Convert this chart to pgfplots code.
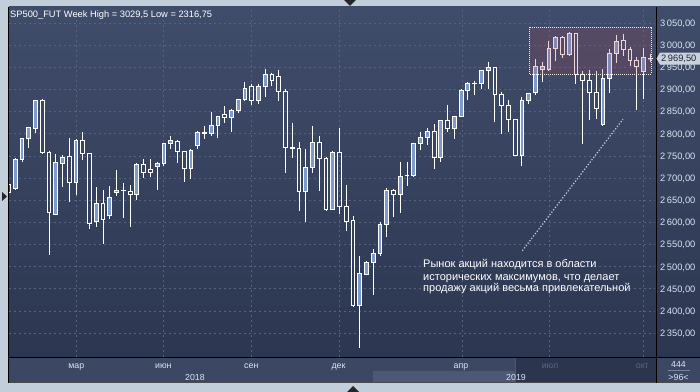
\documentclass[border=0pt]{standalone}
\usepackage{pgfplots}
\pgfplotsset{compat=1.18}
\usepackage{pgfplotstable}
\usepackage{fontspec}
\setmainfont{Liberation Sans}

\definecolor{framec}{HTML}{C3CEDB}
\definecolor{bgtop}{HTML}{404D6A}
\definecolor{bgbot}{HTML}{2C3651}
\definecolor{gridc}{HTML}{56637F}
\definecolor{bullc}{HTML}{7E9BCB}
\definecolor{labc}{HTML}{DCE5F4}
\definecolor{tbar}{HTML}{3B4763}
\definecolor{tbardark}{HTML}{2B354E}
\definecolor{tbarlight}{HTML}{4C5874}
\definecolor{dimlab}{HTML}{5C6682}
\definecolor{ovl}{HTML}{A94858}
\definecolor{dotc}{HTML}{C8D0DE}
\definecolor{pricebox}{HTML}{C9D1DC}
\definecolor{pricetxt}{HTML}{1E2636}

\pgfplotstableread{
i o h l c
0 2685 2688 2665 2667
1 2676 2745 2675 2742
2 2742 2791 2737 2789
3 2789 2816 2768 2814
4 2811 2877 2802 2875
5 2875 2879 2754 2757
6 2757 2762 2527 2622
7 2618 2755 2618 2736
8 2734 2751 2680 2746
9 2748 2791 2646 2689
10 2689 2788 2662 2784
11 2784 2803 2741 2755
12 2755 2757 2585 2597
13 2602 2679 2590 2642
14 2642 2672 2551 2606
15 2615 2681 2607 2656
16 2667 2719 2660 2672
17 2672 2688 2610 2672
18 2669 2684 2590 2663
19 2663 2733 2651 2730
20 2730 2742 2701 2712
21 2719 2742 2703 2712
22 2726 2737 2673 2733
23 2733 2780 2728 2778
24 2778 2796 2766 2784
25 2782 2786 2734 2759
26 2759 2759 2691 2721
27 2721 2766 2698 2762
28 2773 2807 2766 2802
29 2802 2818 2789 2800
30 2800 2850 2794 2818
31 2818 2841 2791 2839
32 2843 2863 2825 2836
33 2836 2857 2803 2852
34 2852 2879 2846 2877
35 2877 2918 2875 2902
36 2906 2913 2866 2875
37 2875 2913 2868 2906
38 2906 2947 2884 2933
39 2933 2938 2909 2920
40 2929 2945 2875 2895
41 2895 2900 2712 2769
42 2769 2825 2746 2767
43 2766 2782 2626 2669
44 2669 2766 2601 2724
45 2724 2818 2712 2780
46 2780 2796 2671 2744
47 2744 2748 2626 2628
48 2628 2762 2628 2757
49 2757 2814 2620 2636
50 2636 2685 2581 2602
51 2604 2615 2408 2412
52 2412 2523 2316.75 2484
53 2482 2512 2482 2509
54 2509 2539 2437 2530
55 2530 2600 2523 2595
56 2595 2678 2566 2672
57 2672 2676 2613 2663
58 2663 2737 2622 2703
59 2705 2737 2681 2706
60 2706 2780 2703 2778
61 2778 2803 2764 2791
62 2791 2814 2775 2805
63 2805 2821 2721 2746
64 2746 2832 2737 2830
65 2830 2866 2805 2812
66 2812 2841 2789 2839
67 2839 2900 2839 2897
68 2897 2918 2877 2913
69 2913 2920 2888 2914
70 2913 2945 2900 2942
71 2942 2963 2902 2949
72 2949 2949 2827 2888
73 2888 2895 2800 2863
74 2863 2877 2805 2832
75 2832 2832 2752 2752
76 2752 2884 2728 2875
77 2875 2893 2868 2891
78 2893 2969 2888 2951
79 2945 2963 2918 2951
80 2945 3010 2942 2992
81 2992 3021 2965 3017
82 3017 3021 2972 2979
83 2979 3029.5 2976 3026
84 3026 3028 2913 2933
85 2933 2942 2776 2920
86 2920 2945 2832 2893
87 2893 2942 2834 2857
88 2821 2947 2818 2924
89 2924 2992 2891 2981
90 2981 3024 2960 3008
91 3010 3026 2976 2990
92 2990 2997 2954 2965
93 2965 2974 2854 2951
94 2940 2994 2879 2972
95 2969 2981 2961 2969.5
}\candles

\begin{document}
\begin{tikzpicture}
% outer frame and backgrounds
\fill[framec] (0bp,0bp) rectangle (700bp,392bp);
\shade[top color=bgtop, bottom color=bgbot] (9bp,34bp) rectangle (700bp,385bp);
\fill[tbar] (9bp,9bp) rectangle (700bp,34bp);
\fill[tbarlight] (373bp,9bp) rectangle (515bp,21.3bp);
\fill[tbardark] (515bp,9bp) rectangle (656bp,34bp);
\draw[tbarlight, line width=0.8bp] (515.4bp,9bp) -- (515.4bp,34bp);
\draw[black!70, line width=0.8bp] (9bp,9.4bp) -- (700bp,9.4bp);

\begin{axis}[
  at={(9bp,35bp)}, anchor=south west,
  scale only axis, width=646bp, height=349bp,
  xmin=0.07, xmax=95.7, ymin=2296, ymax=3084,
  axis line style={draw=none},
  tick style={draw=none},
  major tick length=0pt,
  xtick={10.03,22.91,35.94,49.02,67.13,80.01,93.97},
  xticklabel=\empty,
  ytick={2350,2400,...,3050},
  yticklabels={{2\,350,00},{2\,400,00},{2\,450,00},{2\,500,00},{2\,550,00},{2\,600,00},{2\,650,00},{2\,700,00},{2\,750,00},{2\,800,00},{2\,850,00},{2\,900,00},{2\,950,00},{3\,000,00},{3\,050,00}},
  yticklabel pos=right,
  yticklabel style={anchor=west, inner sep=0pt, xshift=5bp, text=labc,
    font=\fontsize{9.3bp}{11bp}\selectfont, text height=6.7bp, text depth=0pt},
  grid=major,
  major grid style={gridc, line width=0.8bp, dash pattern=on 2bp off 3bp},
  cnd/.style={draw=none, mark=none, forget plot},
]
% bullish body fill
\addplot[cnd, error bars/.cd, y dir=minus, y explicit, error mark=none,
  error bar style={draw=bullc, line width=3.8bp, line cap=butt, solid}]
  table[x=i, y=c, y error minus expr={max(\thisrow{c}-\thisrow{o},0)}] {\candles};
% upper wicks
\addplot[cnd, error bars/.cd, y dir=minus, y explicit, error mark=none,
  error bar style={draw=white, line width=1bp, line cap=butt, solid}]
  table[x=i, y=h, y error minus expr={\thisrow{h}-max(\thisrow{o},\thisrow{c})}] {\candles};
% lower wicks
\addplot[cnd, error bars/.cd, y dir=minus, y explicit, error mark=none,
  error bar style={draw=white, line width=1bp, line cap=butt, solid}]
  table[x=i, y expr={min(\thisrow{o},\thisrow{c})}, y error minus expr={min(\thisrow{o},\thisrow{c})-\thisrow{l}}] {\candles};
% body left and right edges
\addplot[cnd, error bars/.cd, y dir=minus, y explicit, error mark=none,
  error bar style={draw=white, line width=1bp, line cap=rect, solid}]
  table[x expr=\thisrow{i}-0.28, y expr={max(\thisrow{o},\thisrow{c})}, y error minus expr={abs(\thisrow{o}-\thisrow{c})}] {\candles};
\addplot[cnd, error bars/.cd, y dir=minus, y explicit, error mark=none,
  error bar style={draw=white, line width=1bp, line cap=rect, solid}]
  table[x expr=\thisrow{i}+0.28, y expr={max(\thisrow{o},\thisrow{c})}, y error minus expr={abs(\thisrow{o}-\thisrow{c})}] {\candles};
% body top and bottom edges
\addplot[cnd, error bars/.cd, x dir=both, x fixed=0.28, error mark=none,
  error bar style={draw=white, line width=1bp, line cap=rect, solid}]
  table[x=i, y expr={max(\thisrow{o},\thisrow{c})}] {\candles};
\addplot[cnd, error bars/.cd, x dir=both, x fixed=0.28, error mark=none,
  error bar style={draw=white, line width=1bp, line cap=rect, solid}]
  table[x=i, y expr={min(\thisrow{o},\thisrow{c})}] {\candles};
% highlighted zone
\fill[ovl, fill opacity=0.22] (axis cs:77.05,2935) rectangle (axis cs:95.1,3041);
\draw[white!85!gray, line width=0.9bp, dash pattern=on 1bp off 1bp] (axis cs:77.05,2935) rectangle (axis cs:95.1,3041);
% dotted line
\draw[dotc, line width=1.2bp, dash pattern=on 1.2bp off 1.8bp] (axis cs:76.06,2536) -- (axis cs:90.96,2833);
\end{axis}

% separating lines
\draw[black, line width=1bp] (8.5bp,9bp) -- (8.5bp,385bp);
\draw[black, line width=1bp] (656bp,9bp) -- (656bp,385bp);
\draw[black, line width=1bp] (9bp,34.5bp) -- (700bp,34.5bp);

% title
\node[anchor=base west, inner sep=0pt, text=white, font=\fontsize{9.3bp}{11bp}\selectfont] at (10bp,374.7bp) {SP500\_FUT Week High = 3029,5 Low = 2316,75};

% annotation
\begin{scope}[every node/.style={anchor=base west, inner sep=0pt, text=white, font=\fontsize{11bp}{13bp}\selectfont}]
\node at (423bp,124.7bp) {Рынок акций находится в области};
\node at (423bp,111.3bp) {исторических максимумов, что делает};
\node at (423bp,100bp) {продажу акций весьма привлекательной};
\end{scope}

% current price label
\fill[pricebox] (656.5bp,333.4bp) -- (660bp,339.4bp) -- (700bp,339.4bp) -- (700bp,327.4bp) -- (660bp,327.4bp) -- cycle;
\node[anchor=west, inner sep=0pt, text=pricetxt, font=\fontsize{9.3bp}{11bp}\selectfont, text height=6.7bp, text depth=0pt] at (661bp,333.4bp) {2\,969,50};

% time axis labels
\begin{scope}[every node/.style={anchor=base, inner sep=0pt, text=labc, font=\fontsize{8.8bp}{10bp}\selectfont}]
\node at (76.3bp,23.5bp) {мар};
\node at (163.3bp,23.5bp) {июн};
\node at (251.3bp,23.5bp) {сен};
\node at (338.5bp,23.5bp) {дек};
\node at (461bp,23.5bp) {апр};
\node[text=dimlab] at (550bp,23.5bp) {июл};
\node[text=dimlab] at (642.3bp,23.5bp) {окт};
\node at (195bp,12bp) {2018};
\node at (516bp,12bp) {2019};
\node at (678.5bp,24.7bp) {444};
\node at (678.5bp,12bp) {>96<};
\end{scope}
\draw[gridc!80!white, line width=0.8bp] (668bp,21.3bp) -- (690bp,21.3bp);

% small navigation triangles
\fill[black!85] (344bp,392bp) -- (356bp,392bp) -- (350bp,386bp) -- cycle;
\fill[black!85] (347bp,0bp) -- (359bp,0bp) -- (353bp,6bp) -- cycle;
\fill[black!85] (2bp,200bp) -- (2bp,191bp) -- (7bp,195.5bp) -- cycle;

\pgfresetboundingbox
\path[use as bounding box] (0bp,0bp) rectangle (700bp,392bp);
\end{tikzpicture}
\end{document}
